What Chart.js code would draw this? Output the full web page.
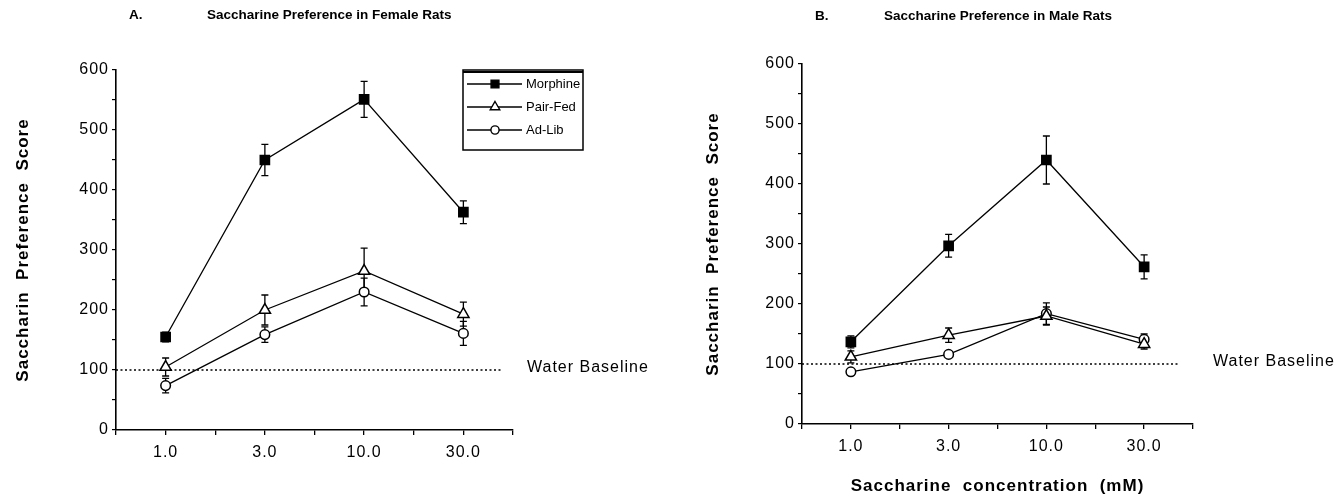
<!DOCTYPE html>
<html><head><meta charset="utf-8">
<script src="https://cdn.jsdelivr.net/npm/chart.js@4/dist/chart.umd.min.js"></script>
<style>
html,body{margin:0;padding:0;background:#fff;}
#wrap{position:relative;width:1338px;height:497px;background:#fff;}
.cw{position:absolute;top:0;width:669px;height:497px;}
</style></head><body>
<div id="wrap">
<div class="cw" style="left:0"><canvas id="cA"></canvas></div>
<div class="cw" style="left:669px"><canvas id="cB"></canvas></div>
</div>
<script>
// ---- data ----
const concentrations = ['1.0', '3.0', '10.0', '30.0'];
const yTickLabels = [0, 100, 200, 300, 400, 500, 600];
const seriesNames = ['Morphine', 'Pair-Fed', 'Ad-Lib'];
const waterBaseline = 100;

const femaleMorphine = [155, 450, 551, 363];
const femaleMorphineErr = [8, 26, 30, 19];
const femalePairFed = [105, 200, 265, 193];
const femalePairFedErr = [15, 25, 38, 20];
const femaleAdLib = [74, 159, 230, 161];
const femaleAdLibErr = [12, 13, 23, 20];

const maleMorphine = [137, 297, 440, 262];
const maleMorphineErr = [10, 19, 40, 20];
const malePairFed = [112, 148, 180, 133];
const malePairFedErr = [10, 12, 15, 8];
const maleAdLib = [87, 116, 184, 141];
const maleAdLibErr = [4, 4, 18, 9];

// ---- helpers ----
const FONT = "'Liberation Sans', Arial, Helvetica, sans-serif";
const toPoints = arr => arr.map((v, i) => ({ x: i, y: v }));
const styles = [
  { pointStyle: 'rect', pointRadius: 6.5, backgroundColor: '#000' },
  { pointStyle: 'triangle', pointRadius: 6.5, backgroundColor: '#fff' },
  { pointStyle: 'circle', pointRadius: 4.8, backgroundColor: '#fff' }
];

function makeDatasets(vals, errs) {
  return vals.map((v, k) => ({
    label: seriesNames[k],
    data: toPoints(v),
    errors: errs[k],
    borderColor: '#000',
    borderWidth: 1.3,
    pointBorderWidth: 1.5,
    pointBorderColor: '#000',
    pointBackgroundColor: styles[k].backgroundColor,
    pointStyle: styles[k].pointStyle,
    pointRadius: styles[k].pointRadius,
    pointHoverRadius: styles[k].pointRadius,
    tension: 0,
    fill: false
  }));
}

function makePlugin(cfg) {
  return {
    id: 'custom' + cfg.letter,
    beforeDraw(chart) {
      chart.ctx.letterSpacing = '1px';
    },
    beforeDatasetsDraw(chart) {
      const ctx = chart.ctx;
      const y = chart.scales.y;
      const ca = chart.chartArea;
      ctx.save();
      ctx.strokeStyle = '#000';
      ctx.lineWidth = 1.3;
      ctx.setLineDash([2, 2.5]);
      const by = y.getPixelForValue(waterBaseline);
      ctx.beginPath();
      ctx.moveTo(ca.left, by);
      ctx.lineTo(ca.right - cfg.baselineInset, by);
      ctx.stroke();
      ctx.setLineDash([]);
      ctx.fillStyle = '#000';
      ctx.font = '16px ' + FONT;
      ctx.letterSpacing = '1px';
      ctx.textAlign = 'left';
      ctx.textBaseline = 'middle';
      ctx.fillText('Water Baseline', cfg.baselineLabelX, by - 2);
      ctx.lineWidth = 1.3;
      chart.data.datasets.forEach((ds, di) => {
        const meta = chart.getDatasetMeta(di);
        meta.data.forEach((pt, i) => {
          const v = ds.data[i].y, e = ds.errors[i];
          const yt = y.getPixelForValue(v + e), yb = y.getPixelForValue(v - e);
          const px = pt.x;
          ctx.beginPath();
          ctx.moveTo(px, yt); ctx.lineTo(px, yb);
          ctx.moveTo(px - 3.5, yt); ctx.lineTo(px + 3.5, yt);
          ctx.moveTo(px - 3.5, yb); ctx.lineTo(px + 3.5, yb);
          ctx.stroke();
        });
      });
      ctx.restore();
    },
    afterDraw(chart) {
      const ctx = chart.ctx;
      ctx.save();
      ctx.fillStyle = '#000';
      ctx.textBaseline = 'middle';
      ctx.textAlign = 'left';
      ctx.font = 'bold 13.5px ' + FONT;
      ctx.letterSpacing = '0px';
      ctx.fillText(cfg.letter + '.', cfg.letterX, cfg.titleY);
      ctx.fillText(cfg.title, cfg.titleX, cfg.titleY);
      if (cfg.legend) {
        const L = cfg.legend;
        ctx.strokeStyle = '#000';
        ctx.lineWidth = 1.5;
        ctx.strokeRect(L.x0, L.y0, L.x1 - L.x0, L.y1 - L.y0);
        ctx.lineWidth = 2;
        ctx.beginPath(); ctx.moveTo(L.x0, L.y0 + 2); ctx.lineTo(L.x1, L.y0 + 2); ctx.stroke();
        ctx.font = '13px ' + FONT;
        ctx.letterSpacing = '0px';
        chart.data.datasets.forEach((ds, k) => {
          const ly = L.rows[k];
          ctx.lineWidth = 1.3;
          ctx.strokeStyle = '#000';
          ctx.beginPath(); ctx.moveTo(L.lineX0, ly); ctx.lineTo(L.lineX1, ly); ctx.stroke();
          ctx.fillStyle = ds.pointBackgroundColor;
          ctx.lineWidth = 1.4;
          Chart.helpers.drawPoint(ctx, { pointStyle: ds.pointStyle, radius: ds.pointRadius * 0.85, borderWidth: 1.4, rotation: 0 }, L.markX, ly);
          ctx.fillStyle = '#000';
          ctx.fillText(ds.label, L.textX, ly);
        });
      }
      ctx.restore();
    }
  };
}

function makeChart(canvasId, vals, errs, cfg) {
  return new Chart(document.getElementById(canvasId), {
    type: 'line',
    data: { datasets: makeDatasets(vals, errs) },
    options: {
      responsive: true,
      maintainAspectRatio: false,
      animation: false,
      events: [],
      layout: { padding: { left: cfg.padLeft, right: cfg.padRight, top: cfg.padTop, bottom: 0 } },
      plugins: { legend: { display: false }, tooltip: { enabled: false }, title: { display: false } },
      scales: {
        x: {
          type: 'linear',
          min: -0.5, max: 3.5,
          afterFit: s => { s.height = cfg.xHeight; },
          ticks: {
            stepSize: 0.5, autoSkip: false, maxRotation: 0, padding: 8,
            color: '#000', font: { family: FONT, size: 16 },
            callback: v => Number.isInteger(v) && concentrations[v] !== undefined ? concentrations[v] : ''
          },
          grid: { drawOnChartArea: false, drawTicks: true, tickLength: 5, color: '#000', lineWidth: 1.3 },
          border: { display: true, color: '#000', width: 1.6 },
          title: {
            display: !!cfg.xTitle, text: cfg.xTitle || '', color: '#000',
            font: { family: FONT, size: 17, weight: 'bold' }, padding: 0
          }
        },
        y: {
          min: 0, max: 600,
          afterFit: s => { s.width = cfg.yWidth; },
          ticks: {
            stepSize: 50, autoSkip: false, padding: 3,
            color: '#000', font: { family: FONT, size: 16 },
            callback: v => yTickLabels.includes(v) ? String(v) : ''
          },
          grid: { drawOnChartArea: false, drawTicks: true, tickLength: 4, color: '#000', lineWidth: 1.2 },
          border: { display: true, color: '#000', width: 1.6 },
          title: {
            display: true, text: 'Saccharin  Preference  Score', color: '#000',
            font: { family: FONT, size: 17, weight: 'bold' }, padding: 0
          }
        }
      }
    },
    plugins: [makePlugin(cfg)]
  });
}

makeChart('cA',
  [femaleMorphine, femalePairFed, femaleAdLib],
  [femaleMorphineErr, femalePairFedErr, femaleAdLibErr],
  {
    letter: 'A', letterX: 129, titleX: 207, titleY: 15,
    title: 'Saccharine Preference in Female Rats',
    padLeft: 13, padRight: 156, padTop: 70, yWidth: 103, xHeight: 67,
    baselineInset: 11, baselineLabelX: 527,
    legend: { x0: 463, y0: 70, x1: 583, y1: 150, rows: [84, 107, 130], lineX0: 467, lineX1: 522, markX: 495, textX: 526 }
  });

makeChart('cB',
  [maleMorphine, malePairFed, maleAdLib],
  [maleMorphineErr, malePairFedErr, maleAdLibErr],
  {
    letter: 'B', letterX: 146, titleX: 215, titleY: 16,
    title: 'Saccharine Preference in Male Rats',
    padLeft: 34, padRight: 145, padTop: 64, yWidth: 99, xHeight: 73,
    baselineInset: 13, baselineLabelX: 544,
    xTitle: 'Saccharine  concentration  (mM)'
  });
</script>
</body></html>
